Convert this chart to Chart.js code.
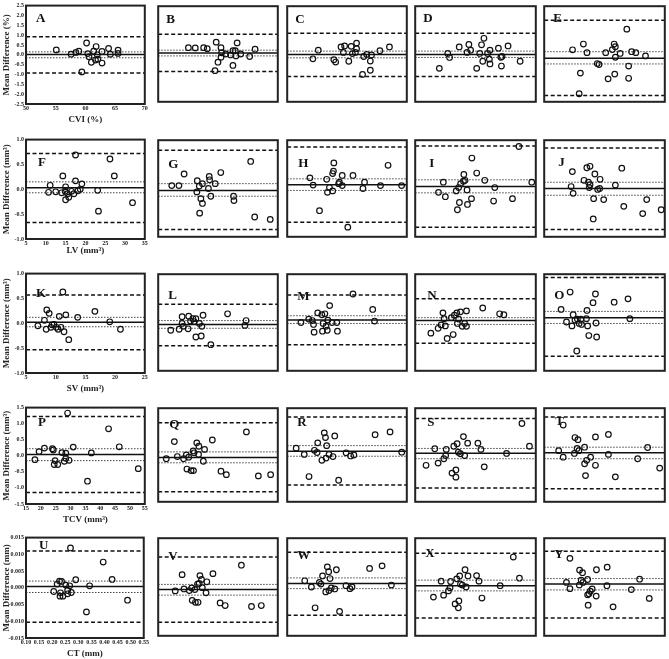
<!DOCTYPE html>
<html>
<head>
<meta charset="utf-8">
<script src="https://cdn.jsdelivr.net/npm/chart.js@4.4.0/dist/chart.umd.min.js"></script>
<style>
  body { margin: 0; background: #fff; width: 669px; height: 659px; position: relative; overflow: hidden; }
  canvas { position: absolute; }
</style>
</head>
<body>
<script>
// ---- data: [mean value, difference] per panel; limits = [upper LoA, upper CI, mean, lower CI, lower LoA]
const ptsA = [[55.1,0.25],[57.6,0.03],[58.4,0.12],[58.9,0.18],[60.2,0.6],[59.4,-0.87],[60.4,0.06],[60.6,-0.1],[61.0,-0.38],[61.4,0.18],[61.8,0.42],[62.0,0.0],[61.7,-0.27],[62.1,-0.22],[62.8,0.17],[62.8,-0.42],[63.9,0.32],[64.2,0.03],[65.5,0.23],[65.5,0.07]];
const limA = [0.92,0.15,0.02,-0.15,-0.92];
const ptsB = [[55.05,0.33],[56.2,0.32],[57.6,0.33],[58.2,0.28],[59.7,0.62],[60.5,0.33],[60.0,-0.43],[59.5,-0.87],[60.6,0.07],[60.5,-0.17],[61.3,0.0],[62.1,-0.05],[62.5,0.17],[62.9,0.17],[63.0,-0.1],[63.2,0.58],[62.5,-0.6],[63.8,0.0],[65.3,-0.13],[66.2,0.25]];
const limB = [1.03,0.2,0.05,-0.1,-0.92];
const ptsC = [[54.3,-0.25],[55.2,0.2],[57.8,-0.3],[58.1,-0.42],[60.3,-0.38],[59.0,0.37],[59.6,0.42],[59.4,0.08],[60.7,0.4],[60.9,0.02],[61.6,0.57],[61.6,0.28],[61.4,0.08],[62.8,-0.13],[63.3,-0.02],[64.1,-0.05],[63.9,-0.37],[62.6,-1.07],[63.9,-0.85],[65.5,0.17],[67.1,0.37]];
const limC = [1.08,0.15,-0.02,-0.2,-1.18];
const ptsD = [[54.0,-0.75],[55.4,0.03],[55.7,-0.18],[57.3,0.37],[58.9,0.5],[59.2,0.2],[58.6,0.08],[60.2,-0.75],[60.7,0.03],[61.0,0.48],[61.4,0.82],[61.2,-0.38],[62.0,0.03],[62.4,0.2],[62.3,-0.27],[62.4,-0.52],[63.8,0.3],[64.2,-0.17],[64.4,-0.13],[64.3,-0.63],[65.4,0.42],[67.4,-0.38]];
const limD = [1.08,0.15,-0.03,-0.18,-1.18];
const ptsE = [[54.7,0.22],[56.5,0.52],[57.1,0.07],[56.0,-1.0],[55.8,-2.08],[58.8,-0.5],[59.1,-0.55],[60.2,0.07],[61.3,0.23],[61.6,0.52],[61.8,0.38],[62.6,0.03],[61.8,-0.17],[63.7,1.3],[64.0,-0.63],[61.7,-1.05],[60.6,-1.3],[64.0,-1.27],[64.5,0.12],[65.2,0.07],[66.8,-0.1]];
const limE = [1.77,0.12,-0.22,-0.52,-2.17];

const ptsF = [[10.7,-0.06],[11.1,0.08],[12.5,-0.05],[14.0,-0.07],[14.3,0.27],[15.0,0.05],[14.9,-0.04],[15.5,-0.09],[15.0,-0.21],[15.8,-0.16],[16.5,-0.04],[17.1,-0.09],[17.5,0.69],[17.5,0.17],[18.1,-0.03],[18.7,0.0],[19.1,0.11],[23.1,-0.02],[23.3,-0.44],[26.2,0.61],[27.3,0.27],[31.9,-0.27]];
const limF = [0.72,0.15,0.03,-0.07,-0.67];
const ptsG = [[8.4,0.06],[10.2,0.06],[11.5,0.3],[14.8,0.16],[14.7,-0.07],[15.3,0.05],[16.1,0.1],[15.7,-0.21],[16.1,-0.31],[15.4,-0.51],[17.6,0.0],[17.8,0.25],[17.9,0.18],[19.3,0.1],[18.2,-0.16],[20.7,0.33],[23.9,-0.16],[24.0,-0.25],[28.2,0.56],[29.2,-0.59],[33.1,-0.64]];
const limG = [0.79,0.1,-0.04,-0.16,-0.85];
const ptsH = [[10.7,0.22],[11.5,0.07],[13.1,-0.46],[14.9,0.19],[15.1,-0.08],[15.6,0.02],[16.4,-0.05],[16.7,0.53],[16.6,0.36],[16.4,0.31],[17.9,0.1],[18.1,0.13],[18.8,0.06],[18.8,0.27],[21.5,0.27],[20.2,-0.8],[24.4,0.13],[24.0,0.0],[28.4,0.06],[30.3,0.48],[33.7,0.06]];
const limH = [0.86,0.2,0.08,-0.04,-0.7];
const ptsI = [[10.8,-0.08],[12.5,-0.17],[12.0,0.13],[15.5,-0.44],[16.0,-0.29],[15.2,-0.05],[15.8,0.02],[16.3,0.1],[17.0,0.15],[17.1,0.29],[17.4,0.17],[17.9,-0.03],[18.0,-0.33],[19.0,-0.21],[19.1,0.63],[20.3,0.32],[22.3,0.17],[24.8,0.02],[24.5,-0.26],[29.2,-0.21],[30.8,0.87],[34.0,0.13]];
const limI = [0.88,0.18,0.04,-0.09,-0.8];
const ptsJ = [[12.0,0.35],[11.7,0.04],[12.2,-0.1],[15.6,0.43],[16.4,0.46],[14.9,0.17],[16.0,0.13],[16.4,0.08],[16.2,0.02],[17.6,0.3],[18.9,0.19],[18.3,-0.02],[18.8,0.0],[17.3,-0.21],[19.8,-0.23],[17.2,-0.63],[22.7,0.07],[24.3,0.42],[24.8,-0.37],[29.5,-0.52],[30.5,-0.23],[34.1,-0.44]];
const limJ = [0.84,0.13,0.0,-0.14,-0.85];

const ptsK = [[7.0,-0.05],[8.1,0.06],[8.4,-0.12],[8.5,0.27],[8.9,0.2],[9.2,-0.08],[9.4,-0.03],[9.7,-0.02],[10.1,-0.08],[10.4,-0.12],[10.6,0.14],[10.9,-0.08],[11.2,0.63],[11.4,-0.17],[11.7,0.17],[12.2,-0.33],[13.7,0.12],[16.6,0.24],[19.1,0.03],[20.9,-0.12]];
const limK = [0.57,0.12,0.02,-0.07,-0.53];
const ptsL = [[7.1,-0.16],[8.5,-0.14],[9.0,0.12],[9.0,-0.02],[9.2,-0.08],[10.0,-0.13],[10.1,0.13],[10.4,0.03],[10.8,0.08],[11.0,0.02],[11.3,0.08],[11.9,-0.02],[12.3,-0.08],[12.5,0.15],[11.3,-0.3],[12.2,-0.28],[13.8,-0.46],[16.6,0.18],[19.5,-0.06],[19.7,0.04]];
const limL = [0.38,0.04,-0.04,-0.12,-0.48];
const ptsM = [[7.3,0.0],[8.6,0.07],[9.2,0.04],[9.4,-0.04],[9.5,-0.2],[10.1,0.2],[10.8,0.16],[11.0,-0.02],[10.9,-0.18],[11.3,0.18],[11.5,-0.08],[11.7,-0.16],[11.8,0.05],[12.1,0.35],[12.5,0.0],[13.3,0.0],[13.4,-0.18],[16.0,0.59],[19.3,0.27],[19.6,0.03]];
const limM = [0.57,0.14,0.05,-0.02,-0.46];
const ptsN = [[7.6,-0.22],[8.8,-0.12],[9.3,-0.05],[10.0,-0.07],[9.6,0.2],[9.8,0.08],[10.3,-0.33],[11.3,-0.25],[11.0,0.1],[11.5,0.15],[11.9,0.2],[12.0,-0.02],[12.2,0.07],[12.5,0.22],[12.8,-0.08],[13.2,-0.02],[13.5,-0.08],[13.5,0.24],[16.2,0.3],[19.0,0.18],[19.7,0.16]];
const limN = [0.49,0.1,0.04,-0.04,-0.43];
const ptsO = [[7.8,0.27],[9.3,0.63],[8.7,0.01],[9.6,-0.07],[9.8,0.16],[10.1,0.05],[10.4,-0.59],[10.5,0.07],[10.8,-0.02],[11.1,0.07],[11.2,-0.04],[12.0,0.08],[12.1,0.25],[12.2,-0.07],[12.4,-0.27],[13.1,0.41],[13.5,0.59],[13.6,-0.01],[13.7,-0.3],[16.6,0.42],[18.9,0.49],[19.2,0.08]];
const limO = [0.93,0.23,0.1,-0.02,-0.7];

const ptsP = [[18.0,-0.12],[19.4,0.13],[21.2,0.24],[23.9,0.22],[24.2,0.18],[24.5,-0.27],[24.8,-0.15],[25.7,-0.27],[27.1,0.1],[27.9,-0.17],[28.4,0.08],[28.4,-0.08],[29.0,1.33],[29.5,-0.14],[30.9,0.27],[35.7,-0.79],[37.0,0.09],[42.8,0.84],[46.4,0.28],[52.8,-0.4]];
const limP = [1.22,0.22,0.04,-0.15,-1.14];
const ptsQ = [[17.7,-0.12],[20.4,0.43],[21.4,-0.05],[23.5,-0.12],[24.4,0.0],[24.6,-0.45],[25.2,-0.07],[26.0,-0.5],[26.8,-0.5],[26.7,0.13],[27.0,0.07],[27.9,0.39],[28.6,0.28],[28.5,0.02],[30.1,-0.2],[30.5,0.18],[33.1,0.48],[36.0,-0.52],[37.8,-0.63],[44.5,0.74],[48.5,-0.67],[52.6,-0.63]];
const limQ = [1.03,0.1,-0.08,-0.25,-1.18];
const ptsR = [[18.0,0.22],[20.7,0.02],[22.3,-0.69],[24.1,0.15],[25.0,0.08],[25.2,0.39],[26.6,-0.17],[27.4,0.71],[27.8,0.56],[28.2,0.3],[28.0,-0.1],[29.0,0.02],[30.9,0.61],[30.3,-0.05],[32.2,-0.81],[34.7,0.07],[36.2,-0.03],[37.3,0.0],[44.4,0.65],[49.4,0.74],[53.3,0.09]];
const limR = [1.22,0.3,0.12,-0.04,-0.96];
const ptsS = [[18.6,-0.33],[21.5,0.2],[22.6,-0.26],[24.5,-0.12],[25.1,-0.02],[25.3,0.18],[27.2,-0.58],[28.5,-0.71],[28.5,-0.48],[27.8,0.28],[28.9,0.36],[29.3,0.09],[30.0,0.04],[31.0,0.59],[31.4,-0.02],[32.4,0.38],[35.8,0.38],[36.8,0.18],[37.9,-0.38],[45.3,0.05],[50.4,1.01],[52.9,0.28]];
const limS = [1.17,0.21,0.06,-0.12,-1.06];
const ptsT = [[21.3,0.96],[19.8,0.14],[21.3,-0.07],[25.0,0.05],[25.2,0.56],[26.2,0.49],[25.9,0.21],[26.5,0.14],[28.4,0.25],[28.4,-0.28],[29.1,-0.17],[30.4,-0.07],[28.7,-0.66],[32.0,0.58],[32.0,-0.33],[36.3,0.66],[36.3,0.02],[38.6,-0.7],[46.0,-0.12],[49.3,0.24],[53.3,-0.42]];
const limT = [1.22,0.25,0.07,-0.12,-1.08];

const ptsU = [[0.206,-0.0011],[0.219,0.0011],[0.236,0.0019],[0.228,0.002],[0.232,-0.0015],[0.230,-0.0025],[0.241,-0.0025],[0.252,0.0008],[0.259,-0.0008],[0.259,-0.0018],[0.267,0.0006],[0.273,-0.0014],[0.270,0.0119],[0.290,0.0024],[0.331,-0.0072],[0.343,0.0006],[0.395,0.0077],[0.429,0.0025],[0.488,-0.0037]];
const limU = [0.011,0.002,0.0004,-0.0014,-0.0103];
const ptsV = [[0.164,-0.0012],[0.190,0.0038],[0.197,-0.0006],[0.217,-0.0011],[0.226,-0.0003],[0.228,-0.0041],[0.238,-0.0008],[0.240,-0.0047],[0.250,-0.0047],[0.248,0.0009],[0.257,0.0035],[0.263,0.0023],[0.266,-0.0002],[0.280,-0.0018],[0.283,0.0016],[0.254,0.0011],[0.306,0.0041],[0.333,-0.0049],[0.352,-0.0057],[0.413,0.0067],[0.451,-0.006],[0.488,-0.0057]];
const limV = [0.0092,0.0008,-0.0008,-0.0025,-0.0108];
const ptsW = [[0.166,0.0019],[0.191,0.0],[0.205,-0.0064],[0.221,0.0014],[0.227,0.0009],[0.233,0.0034],[0.245,-0.0015],[0.251,0.0062],[0.256,0.0047],[0.257,-0.0011],[0.261,0.0026],[0.266,-0.0003],[0.279,-0.0006],[0.285,0.0053],[0.297,-0.0075],[0.321,0.0004],[0.336,-0.0005],[0.344,0.0],[0.41,0.0057],[0.457,0.0065],[0.492,0.0006]];
const limW = [0.0107,0.0028,0.0011,-0.0005,-0.0087];
const ptsX = [[0.168,-0.0031],[0.197,0.0018],[0.206,-0.0025],[0.224,-0.0012],[0.230,-0.0002],[0.232,0.0017],[0.249,-0.0052],[0.261,-0.0064],[0.263,-0.0043],[0.255,0.0025],[0.266,0.0034],[0.269,0.0009],[0.276,0.0006],[0.286,0.0053],[0.29,0.0],[0.297,0.0034],[0.329,0.0035],[0.338,0.0018],[0.349,-0.0034],[0.417,0.0004],[0.466,0.0092],[0.489,0.0027]];
const limX = [0.0104,0.0021,0.0004,-0.0012,-0.0095];
const ptsY = [[0.196,0.0088],[0.183,0.0014],[0.196,-0.0005],[0.232,0.0052],[0.243,0.0044],[0.231,0.0006],[0.238,0.0021],[0.245,0.0014],[0.262,0.0023],[0.272,-0.0013],[0.267,-0.0021],[0.279,-0.0006],[0.262,-0.0024],[0.264,-0.0056],[0.294,-0.0028],[0.295,0.0053],[0.335,0.0061],[0.334,0.0004],[0.357,-0.0061],[0.425,-0.0008],[0.456,0.0024],[0.492,-0.0035]];
const limY = [0.011,0.0026,0.0009,-0.0009,-0.0095];

// ---- axes per row
const rowXTitles = ['CVI (%)', 'LV (mm³)', 'SV (mm³)', 'TCV (mm³)', 'CT (mm)'];
const rowYTitles = ['Mean Difference (%)', 'Mean Difference (mm³)', 'Mean Difference (mm³)', 'Mean Difference (mm³)', 'Mean Difference (mm)'];
const rowXTicks = [
  [50, 55, 60, 65, 70],
  [5, 10, 15, 20, 25, 30, 35],
  [5, 10, 15, 20, 25],
  [15, 20, 25, 30, 35, 40, 45, 50, 55],
  [0.10, 0.15, 0.20, 0.25, 0.30, 0.35, 0.40, 0.45, 0.50, 0.55]
];
const rowYTicks = [
  [-2.5, -2.0, -1.5, -1.0, -0.5, 0.0, 0.5, 1.0, 1.5, 2.0, 2.5],
  [-1.0, -0.5, 0.0, 0.5, 1.0],
  [-1.0, -0.5, 0.0, 0.5, 1.0],
  [-1.5, -1.0, -0.5, 0.0, 0.5, 1.0, 1.5],
  [-0.015, -0.010, -0.005, 0.000, 0.005, 0.010, 0.015]
];
const xDec = [0, 0, 0, 0, 2];
const yDec = [1, 1, 1, 1, 3];

const letters = 'ABCDEFGHIJKLMNOPQRSTUVWXY'.split('');
const allPts = [ptsA, ptsB, ptsC, ptsD, ptsE, ptsF, ptsG, ptsH, ptsI, ptsJ, ptsK, ptsL, ptsM, ptsN, ptsO, ptsP, ptsQ, ptsR, ptsS, ptsT, ptsU, ptsV, ptsW, ptsX, ptsY];
const allLim = [limA, limB, limC, limD, limE, limF, limG, limH, limI, limJ, limK, limL, limM, limN, limO, limP, limQ, limR, limS, limT, limU, limV, limW, limX, limY];

// ---- layout (plot areas in page pixels)
const COLS = [[26, 148], [156, 280], [285, 409], [413, 538], [542, 667]];
const ROWS = [[4, 104], [138, 239], [272, 373], [406, 504], [536, 638]];
const XAXIS_H = [21, 17, 21, 21, 21];
const letterDx = [10,8,8,8,9, 12,10,11,14,14, 10,10,10,12,10, 12,11,10,12,11, 13,10,10,10,10];
const letterDy = [13,13,13,12.5,12, 23,24,23,23,22, 20,21,22,21.5,21, 15,16,14.5,14,13.5, 8,18,17.5,15,16.5];

Chart.defaults.font.family = "'Liberation Serif', 'DejaVu Serif', serif";
Chart.defaults.color = '#222';

const framePlugin = {
  id: 'frame',
  afterDatasetsDraw(chart, args, opts) {
    const a = chart.chartArea, ctx = chart.ctx;
    ctx.save();
    ctx.strokeStyle = '#222';
    ctx.lineWidth = 2;
    ctx.strokeRect(a.left, a.top, a.right - a.left, a.bottom - a.top);
    ctx.fillStyle = '#111';
    ctx.font = "bold 13px 'Liberation Serif', serif";
    ctx.textBaseline = 'middle';
    ctx.textAlign = 'left';
    ctx.fillText(opts.letter, a.left + opts.dx, a.top + opts.dy);
    ctx.restore();
  }
};

// line style for [upper LoA, upper CI, mean, lower CI, lower LoA]
const limStyle = [
  { dash: [4, 2.5], w: 1.5, c: '#111' },
  { dash: [1.5, 1.5], w: 1, c: '#444' },
  { dash: [], w: 1.5, c: '#111' },
  { dash: [1.5, 1.5], w: 1, c: '#444' },
  { dash: [4, 2.5], w: 1.5, c: '#111' }
];

function makePanel(i) {
  const r = Math.floor(i / 5), c = i % 5;
  const first = c === 0;
  const [x0, x1] = COLS[c], [y0, y1] = ROWS[r];
  const xt = rowXTicks[r], yt = rowYTicks[r];
  const xmin = xt[0], xmax = xt[xt.length - 1];

  const cv = document.createElement('canvas');
  let left, top, w, h;
  if (first) { left = 0; top = y0 - 4; w = x1 + 2; h = 4 + (y1 - y0) + XAXIS_H[r]; }
  else { left = x0 - 3; top = y0 - 3; w = x1 - x0 + 6; h = y1 - y0 + 6; }
  cv.width = w; cv.height = h;
  cv.style.left = left + 'px'; cv.style.top = top + 'px';
  cv.style.width = w + 'px'; cv.style.height = h + 'px';
  document.body.appendChild(cv);

  const datasets = [{
    data: allPts[i].map(p => ({ x: p[0], y: p[1] })),
    pointRadius: 2.8,
    pointBorderWidth: 1.2,
    pointBorderColor: '#111',
    pointBackgroundColor: 'rgba(255,255,255,0)',
    showLine: false
  }];
  allLim[i].forEach((v, k) => {
    const s = limStyle[k];
    datasets.push({
      data: [{ x: xmin, y: v }, { x: xmax, y: v }],
      showLine: true, pointRadius: 0,
      borderColor: s.c, borderWidth: s.w, borderDash: s.dash
    });
  });

  const xScale = {
    type: 'linear', min: xmin, max: xmax, display: first,
    afterBuildTicks: s => { s.ticks = xt.map(v => ({ value: v })); },
    grid: { display: false, drawTicks: false },
    border: { display: false },
    ticks: { autoSkip: false, maxRotation: 0, padding: 1, font: { size: 6, weight: 'bold' },
             callback: v => Number(v).toFixed(xDec[r]) },
    title: { display: true, text: rowXTitles[r], padding: 0, font: { size: 9, weight: 'bold' } }
  };
  const yScale = {
    type: 'linear', min: yt[0], max: yt[yt.length - 1], display: first,
    afterBuildTicks: s => { s.ticks = yt.map(v => ({ value: v })); },
    grid: { display: false, drawTicks: false },
    border: { display: false },
    ticks: { autoSkip: false, padding: 2, font: { size: 6, weight: 'bold' },
             callback: v => Number(v).toFixed(yDec[r]) },
    title: { display: true, text: rowYTitles[r], padding: { top: 1, bottom: 0 }, font: { size: 9, weight: 'bold' } }
  };
  if (first) {
    xScale.afterFit = s => { s.height = XAXIS_H[r]; };
    yScale.afterFit = s => { s.width = 26; };
  }

  new Chart(cv, {
    type: 'scatter',
    data: { datasets },
    options: {
      responsive: false,
      animation: false,
      devicePixelRatio: 1,
      layout: { padding: first ? { top: 4, right: 2, left: 0, bottom: 0 } : 3 },
      plugins: {
        legend: { display: false },
        tooltip: { enabled: false },
        frame: { letter: letters[i], dx: letterDx[i], dy: letterDy[i] }
      },
      scales: { x: xScale, y: yScale }
    },
    plugins: [framePlugin]
  });
}

for (let i = 0; i < 25; i++) makePanel(i);
</script>
</body>
</html>
